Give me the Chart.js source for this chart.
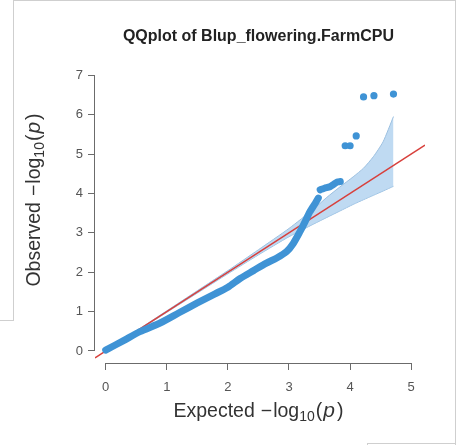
<!DOCTYPE html>
<html><head><meta charset="utf-8">
<script src="https://cdn.jsdelivr.net/npm/chart.js@4.4.0/dist/chart.umd.min.js"></script>
<style>
html,body{margin:0;padding:0;background:#fff;}
#wrap{position:relative;width:456px;height:445px;overflow:hidden;background:#fff;}
canvas{position:absolute;left:0;top:0;}
.ln{position:absolute;background:#cfcfcf;}
</style></head><body>
<div id="wrap">
<canvas id="c" width="456" height="445"></canvas>
<div class="ln" style="left:13px;top:0;width:443px;height:1px"></div>
<div class="ln" style="left:455px;top:0;width:1px;height:445px"></div>
<div class="ln" style="left:13px;top:0;width:1px;height:320px"></div>
<div class="ln" style="left:0;top:320px;width:14px;height:1px"></div>
<div class="ln" style="left:367px;top:443px;width:89px;height:1px"></div>
<div class="ln" style="left:367px;top:443px;width:1px;height:2px"></div>
</div>
<script>
// ---- data ----
const titleText = 'QQplot of Blup_flowering.FarmCPU';
const xTicks = [0, 1, 2, 3, 4, 5];
const yTicks = [0, 1, 2, 3, 4, 5, 6, 7];

// dense observed curve (many overlapping points)
const obsMainX = [0.0, 0.3, 0.56, 0.89, 1.2, 1.5, 1.79, 2.0, 2.2, 2.42, 2.63, 2.8, 2.96, 3.07, 3.18, 3.26, 3.34, 3.43, 3.48];
const obsMainY = [0.02, 0.27, 0.49, 0.71, 0.97, 1.22, 1.45, 1.62, 1.84, 2.04, 2.23, 2.36, 2.52, 2.73, 3.03, 3.27, 3.53, 3.75, 3.88];
// plateau segment
const obsPlatX = [3.51, 3.58, 3.67, 3.74, 3.79, 3.84];
const obsPlatY = [4.09, 4.13, 4.17, 4.24, 4.29, 4.30];
// isolated top points
const obsTopX = [3.92, 4.00, 4.10, 4.22, 4.39, 4.71];
const obsTopY = [5.21, 5.21, 5.46, 6.45, 6.48, 6.52];

// confidence band
const bandX     = [0, 0.5, 1, 1.5, 2, 2.5, 3, 3.4, 3.62, 3.83, 4.05, 4.22, 4.38, 4.54, 4.71];
const bandUpper = [0, 0.51, 1.02, 1.53, 2.04, 2.57, 3.11, 3.6, 3.9, 4.16, 4.42, 4.64, 4.93, 5.31, 5.95];
const bandLower = [0, 0.49, 0.98, 1.47, 1.96, 2.44, 2.90, 3.22, 3.39, 3.55, 3.72, 3.84, 3.95, 4.06, 4.18];

// axis ranges
const xMin = -0.175, xMax = 5.226;
const yMin = -0.305, yMax = 7.386;

const zip = (xs, ys) => xs.map((x, i) => ({x: x, y: ys[i]}));
const BLUE = '#3f93d5';
const FONT = '"Liberation Sans", Arial, Helvetica, sans-serif';
Chart.defaults.font.family = FONT;

function drawParts(ctx, parts, base) {
  let total = 0;
  const items = parts.map(p => {
    if (p.gap) { total += p.gap; return p; }
    const size = p.size || base;
    const font = (p.italic ? 'italic ' : '') + (p.bold ? 'bold ' : '') + size + 'px ' + FONT;
    ctx.font = font;
    const w = ctx.measureText(p.t).width;
    total += w;
    return Object.assign({}, p, {font: font, w: w});
  });
  let x = -total / 2;
  items.forEach(p => {
    if (p.gap) { x += p.gap; return; }
    ctx.font = p.font;
    ctx.fillText(p.t, x, p.dy || 0);
    x += p.w;
  });
}

const labelPlugin = {
  id: 'labels',
  afterDraw(chart) {
    const ctx = chart.ctx;
    const xs = chart.scales.x, ys = chart.scales.y;
    const ca = chart.chartArea;
    ctx.save();
    ctx.strokeStyle = '#6b6b6b';
    ctx.lineWidth = 1;
    ctx.beginPath();
    ctx.moveTo(xs.getPixelForValue(xTicks[0]), Math.round(ca.bottom) + 0.5);
    ctx.lineTo(xs.getPixelForValue(xTicks[xTicks.length - 1]), Math.round(ca.bottom) + 0.5);
    ctx.moveTo(Math.round(ca.left) - 0.5, ys.getPixelForValue(yTicks[0]));
    ctx.lineTo(Math.round(ca.left) - 0.5, ys.getPixelForValue(yTicks[yTicks.length - 1]));
    ctx.stroke();

    ctx.textBaseline = 'alphabetic';
    ctx.fillStyle = '#222';
    const midX = (xs.getPixelForValue(xTicks[0]) + xs.getPixelForValue(xTicks[xTicks.length - 1])) / 2;
    ctx.save();
    ctx.translate(midX, 40.5);
    drawParts(ctx, [{t: titleText, bold: true}], 16);
    ctx.restore();

    ctx.fillStyle = '#333';
    const mathParts = (word) => [
      {t: word}, {gap: 6}, {t: '\u2212'}, {gap: 1}, {t: 'log'},
      {t: '10', size: 14, dy: 4}, {gap: 1}, {t: '('}, {gap: 1},
      {t: 'p', italic: true, size: 21}, {gap: 2}, {t: ')'}
    ];
    ctx.save();
    ctx.translate(midX, 417);
    drawParts(ctx, mathParts('Expected'), 19.5);
    ctx.restore();

    ctx.save();
    ctx.translate(40, 200);
    ctx.rotate(-Math.PI / 2);
    drawParts(ctx, mathParts('Observed'), 19.5);
    ctx.restore();
    ctx.restore();
  }
};

const setTicks = (vals) => (scale) => { scale.ticks = vals.map(v => ({value: v})); };

new Chart(document.getElementById('c'), {
  type: 'scatter',
  data: {
    datasets: [
      {
        label: 'observed', data: zip(obsMainX, obsMainY), showLine: true,
        borderColor: BLUE, borderWidth: 7, pointRadius: 0, tension: 0.25,
        borderCapStyle: 'round', borderJoinStyle: 'round', order: 0
      },
      {
        label: 'observed2', data: zip(obsPlatX, obsPlatY), showLine: true,
        borderColor: BLUE, borderWidth: 7, pointRadius: 0, tension: 0.3,
        borderCapStyle: 'round', borderJoinStyle: 'round', order: 0
      },
      {
        label: 'observed3', data: zip(obsTopX, obsTopY), showLine: false,
        pointRadius: 3.6, pointBackgroundColor: BLUE, pointBorderWidth: 0, order: 0
      },
      {
        label: 'expected', data: [{x: xMin, y: xMin}, {x: xMax, y: xMax}], showLine: true,
        borderColor: '#d8403c', borderWidth: 1.5, pointRadius: 0, order: 1
      },
      {
        label: 'ci upper', data: zip(bandX, bandUpper), showLine: true,
        borderColor: '#9cc0e0', borderWidth: 1, pointRadius: 0, tension: 0.2,
        fill: '+1', backgroundColor: 'rgba(170,205,237,0.75)', order: 2
      },
      {
        label: 'ci lower', data: zip(bandX, bandLower), showLine: true,
        borderColor: '#9cc0e0', borderWidth: 1, pointRadius: 0, tension: 0.2,
        fill: false, order: 2
      }
    ]
  },
  options: {
    responsive: false, animation: false, devicePixelRatio: 1,
    layout: {padding: {left: 0, top: 60, right: 31, bottom: 0}},
    plugins: {legend: {display: false}, tooltip: {enabled: false}, title: {display: false}},
    scales: {
      x: {
        type: 'linear', min: xMin, max: xMax,
        afterBuildTicks: setTicks(xTicks),
        afterFit: (s) => { s.height = 82; },
        border: {display: false},
        grid: {display: true, drawOnChartArea: false, drawTicks: true, tickLength: 7, color: '#6b6b6b', lineWidth: 1},
        ticks: {color: '#555', font: {size: 13}, padding: 10, maxRotation: 0, autoSkip: false}
      },
      y: {
        type: 'linear', min: yMin, max: yMax,
        afterBuildTicks: setTicks(yTicks),
        afterFit: (s) => { s.width = 95; },
        border: {display: false},
        grid: {display: true, drawOnChartArea: false, drawTicks: true, tickLength: 7, color: '#6b6b6b', lineWidth: 1},
        ticks: {color: '#555', font: {size: 13}, padding: 5, autoSkip: false}
      }
    }
  },
  plugins: [labelPlugin]
});
</script>
</body></html>
